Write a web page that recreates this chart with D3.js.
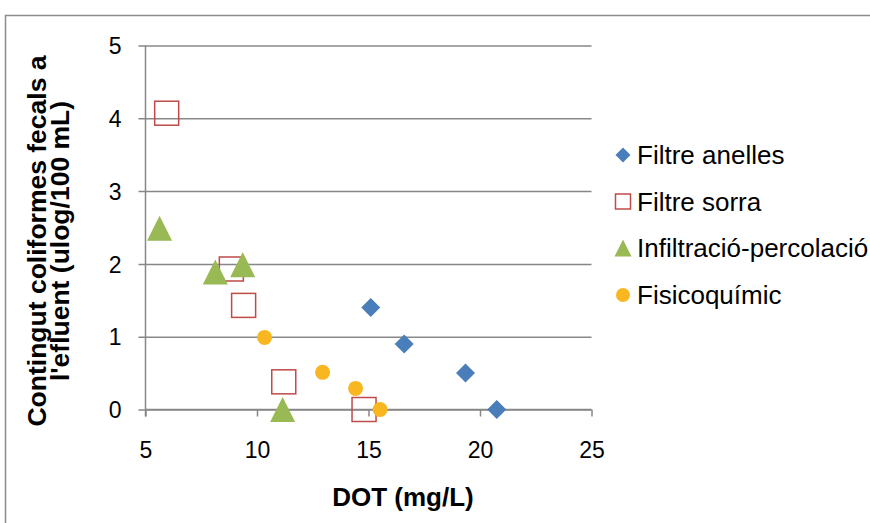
<!DOCTYPE html>
<html><head><meta charset="utf-8">
<script src="https://cdn.jsdelivr.net/npm/d3@7"></script>
<style>body{margin:0;background:#fff;} svg{display:block;font-family:"Liberation Sans",Arial,sans-serif;}</style>
</head><body>
<svg id="c" width="870" height="523"></svg>
<script>
const seriesNames = ["Filtre anelles", "Filtre sorra", "Infiltració-percolació", "Fisicoquímic"];
const anellesX = [15.1, 16.6, 19.35, 20.75];
const anellesY = [1.4, 0.9, 0.5, 0];
const sorraX = [5.95, 8.85, 9.4, 11.2, 14.8];
const sorraY = [4.07, 1.93, 1.43, 0.38, 0];
const infiltX = [5.63, 8.13, 9.36, 11.15];
const infiltY = [2.49, 1.89, 1.99, 0];
const fisicoX = [10.34, 12.94, 14.42, 15.52];
const fisicoY = [0.99, 0.51, 0.29, 0];
const xTicks = [5, 10, 15, 20, 25];
const yTicks = [0, 1, 2, 3, 4, 5];

const svg = d3.select("#c");
const FF = "Liberation Sans, Arial, sans-serif";
const x = d3.scaleLinear().domain([5, 25]).range([145.5, 591.5]);
const y = d3.scaleLinear().domain([0, 5]).range([409.5, 45.5]);
const grid = "#878787";

// outer frame
svg.append("rect").attr("x", 5.5).attr("y", 15.5).attr("width", 900).attr("height", 600)
  .attr("fill", "none").attr("stroke", "#8c8c8c").attr("stroke-width", 1.5);

// y axis with gridlines
const yAxis = d3.axisLeft(y).tickValues(yTicks).tickSize(0).tickPadding(0).tickFormat(d3.format("d"));
const gy = svg.append("g").attr("transform", `translate(${x.range()[0]},0)`).call(yAxis);
gy.select(".domain").remove();
gy.selectAll(".tick line").attr("x1", -7).attr("x2", x.range()[1] - x.range()[0]).attr("stroke", grid).attr("stroke-width", 1.5);
gy.selectAll(".tick text").attr("x", -24).attr("dy", "0.36em").attr("font-size", 23).attr("fill", "#000")
  .attr("font-family", FF);

// vertical axis line
svg.append("line").attr("x1", x(5)).attr("x2", x(5)).attr("y1", y(5)).attr("y2", y(0) + 7)
  .attr("stroke", grid).attr("stroke-width", 1.5);

// x axis
const xAxis = d3.axisBottom(x).tickValues(xTicks).tickSize(7).tickPadding(25).tickFormat(d3.format("d"));
const gx = svg.append("g").attr("transform", `translate(0,${y(0)})`).call(xAxis);
gx.select(".domain").attr("stroke", grid).attr("stroke-width", 1.5).attr("d", `M${x(5)},0H${x(25)}`);
gx.selectAll(".tick line").attr("stroke", grid).attr("stroke-width", 1.5);
gx.selectAll(".tick text").attr("font-size", 23).attr("fill", "#000")
  .attr("font-family", FF);

// axis titles
svg.append("text").attr("x", 403).attr("y", 506).attr("text-anchor", "middle")
  .attr("font-size", 26).attr("font-weight", "bold").text("DOT (mg/L)");
const yt = svg.append("text").attr("transform", "translate(0,241) rotate(-90)")
  .attr("text-anchor", "middle").attr("font-size", 26.5).attr("font-weight", "bold");
yt.append("tspan").attr("x", 0).attr("y", 46).text("Contingut coliformes fecals a");
yt.append("tspan").attr("x", 0).attr("y", 69).text("l'efluent (ulog/100 mL)");

const colors = ["#4a7ebb", "#be4b48", "#98b954", "#f8b720"];
function marker(g, type, s) {
  if (type === 0) {
    g.append("path").attr("d", `M0,${-s/2}L${s/2},0L0,${s/2}L${-s/2},0Z`).attr("fill", colors[0]);
  } else if (type === 1) {
    g.append("rect").attr("x", -s/2).attr("y", -s/2).attr("width", s).attr("height", s)
      .attr("fill", "none").attr("stroke", colors[1]).attr("stroke-width", 1.5);
  } else if (type === 2) {
    g.append("path").attr("d", `M0,${-s/2}L${s/2},${s/2}L${-s/2},${s/2}Z`).attr("fill", colors[2]);
  } else {
    g.append("circle").attr("r", s/2).attr("fill", colors[3]);
  }
}
const sizes = [19, 24, 25, 15];
const data = [[anellesX, anellesY], [sorraX, sorraY], [infiltX, infiltY], [fisicoX, fisicoY]];
const plot = svg.append("g");
data.forEach(([xs, ys], i) => {
  xs.forEach((xv, j) => {
    const g = plot.append("g").attr("transform", `translate(${x(xv)},${y(ys[j])})`);
    marker(g, i, sizes[i]);
  });
});

// legend
const legY = [155, 201.5, 248, 295];
const legSizes = [15, 15, 17, 14];
seriesNames.forEach((n, i) => {
  const g = svg.append("g").attr("transform", `translate(623,${legY[i]})`);
  marker(g, i, legSizes[i]);
  g.append("text").attr("x", 14).attr("y", 0).attr("dy", "0.36em").attr("font-size", 26).attr("fill", "#000")
    .attr("font-family", FF).text(n);
});
</script>
</body></html>
